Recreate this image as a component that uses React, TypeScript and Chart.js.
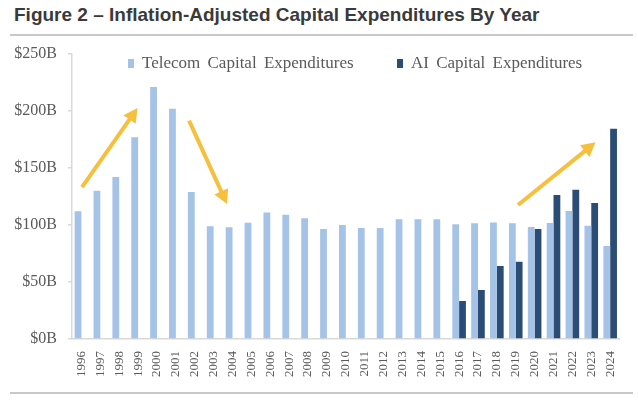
import React, { useEffect, useRef } from "react";
import { Chart, registerables } from "chart.js";

Chart.register(...registerables);

const years = [
  "1996", "1997", "1998", "1999", "2000", "2001", "2002", "2003", "2004", "2005",
  "2006", "2007", "2008", "2009", "2010", "2011", "2012", "2013", "2014", "2015",
  "2016", "2017", "2018", "2019", "2020", "2021", "2022", "2023", "2024",
];

const telecomCapex = [
  112, 130, 142, 177, 221, 202, 129, 99, 98, 102,
  111, 109, 106, 96.5, 100, 97.4, 97.4, 105, 105, 105,
  100.6, 101.5, 102.3, 101.5, 98.2, 101.7, 112.3, 99.4, 81.6,
];

const aiCapex: (number | null)[] = [
  null, null, null, null, null, null, null, null, null, null,
  null, null, null, null, null, null, null, null, null, null,
  33.3, 43, 64, 67.8, 96.5, 126.3, 131, 119.3, 184.5,
];

const yTicks = [0, 50, 100, 150, 200, 250];

// Trend arrows in data space: [fromIndex, fromValue, toIndex, toValue]
const trendArrows = [
  [0.03, 133.3, 2.97, 202.6],
  [5.7, 191.5, 7.71, 118.4],
  [23.12, 117.5, 27.23, 172.5],
];

const seriesNames = ["Telecom Capital Expenditures", "AI Capital Expenditures"];
const LIGHT = "#A5C3E6";
const DARK = "#2B4C74";
const ARROW = "#F6BF3C";

const arrowPlugin = {
  id: "trendArrows",
  afterDatasetsDraw(chart: any) {
    const { ctx, scales } = chart;
    const xs = scales.x;
    const ys = scales.y;
    ctx.save();
    ctx.strokeStyle = ARROW;
    ctx.fillStyle = ARROW;
    ctx.lineWidth = 4;
    ctx.lineCap = "butt";
    for (const [i0, v0, i1, v1] of trendArrows) {
      const x0 = xs.getPixelForValue(i0);
      const y0 = ys.getPixelForValue(v0);
      const x1 = xs.getPixelForValue(i1);
      const y1 = ys.getPixelForValue(v1);
      const ang = Math.atan2(y1 - y0, x1 - x0);
      const headLen = 14;
      const headHalf = 7.5;
      const bx = x1 - headLen * Math.cos(ang);
      const by = y1 - headLen * Math.sin(ang);
      ctx.beginPath();
      ctx.moveTo(x0, y0);
      ctx.lineTo(bx + 2 * Math.cos(ang), by + 2 * Math.sin(ang));
      ctx.stroke();
      ctx.beginPath();
      ctx.moveTo(x1, y1);
      ctx.lineTo(bx + headHalf * Math.sin(ang), by - headHalf * Math.cos(ang));
      ctx.lineTo(bx - headHalf * Math.sin(ang), by + headHalf * Math.cos(ang));
      ctx.closePath();
      ctx.fill();
    }
    ctx.restore();
  },
};

export default function App() {
  const canvasRef = useRef<HTMLCanvasElement | null>(null);

  useEffect(() => {
    if (!canvasRef.current) return;
    const chart = new Chart(canvasRef.current, {
      type: "bar",
      data: {
        labels: years,
        datasets: [
          {
            label: seriesNames[0],
            data: telecomCapex,
            backgroundColor: LIGHT,
            categoryPercentage: 0.72,
            barPercentage: 1,
          },
          {
            label: seriesNames[1],
            data: aiCapex,
            backgroundColor: DARK,
            categoryPercentage: 0.72,
            barPercentage: 1,
          },
        ],
      },
      options: {
        responsive: false,
        animation: false,
        devicePixelRatio: 1,
        layout: { padding: { top: 54, right: 14, left: 0, bottom: 0 } },
        plugins: {
          legend: { display: false },
          tooltip: { enabled: false },
          title: { display: false },
        },
        scales: {
          x: {
            grid: { display: false, drawTicks: false },
            border: { display: true, color: "#D9D9D9", width: 1.5 },
            ticks: {
              autoSkip: false,
              maxRotation: 90,
              minRotation: 90,
              padding: 12,
              color: "#595959",
              font: { family: "'Liberation Serif', 'Times New Roman', serif", size: 13 },
            },
            afterFit(scale: any) {
              scale.height = 65;
            },
          },
          y: {
            min: 0,
            max: 250,
            afterBuildTicks(scale: any) {
              scale.ticks = yTicks.map((v) => ({ value: v }));
            },
            grid: {
              display: true,
              drawOnChartArea: false,
              drawTicks: true,
              tickLength: 4,
              color: "#D9D9D9",
              lineWidth: 1.5,
            },
            border: { display: true, color: "#D9D9D9", width: 1.5 },
            ticks: {
              padding: 11,
              color: "#595959",
              font: { family: "'Liberation Serif', 'Times New Roman', serif", size: 16 },
              callback: (v: any) => `$${v}B`,
            },
            afterFit(scale: any) {
              scale.width = 72;
            },
          },
        },
      },
      plugins: [arrowPlugin],
    });
    return () => chart.destroy();
  }, []);

  const legendText: React.CSSProperties = {
    position: "absolute",
    top: 54,
    fontFamily: "'Liberation Serif', 'Times New Roman', serif",
    fontSize: 17,
    lineHeight: "17px",
    color: "#595959",
    whiteSpace: "nowrap",
    wordSpacing: 3,
  };

  return (
    <div
      style={{
        position: "absolute",
        left: 0,
        top: 0,
        width: 638,
        height: 404,
        background: "#fff",
        overflow: "hidden",
      }}
    >
      <div
        style={{
          position: "absolute",
          left: 14,
          top: 5,
          fontFamily: "'Liberation Sans', Arial, sans-serif",
          fontWeight: "bold",
          fontSize: 19,
          lineHeight: "19px",
          color: "#3A3A3A",
          whiteSpace: "nowrap",
        }}
      >
        Figure 2 – Inflation-Adjusted Capital Expenditures By Year
      </div>
      <div style={{ position: "absolute", left: 10, top: 34, width: 623, height: 2, background: "#C8C8C8" }} />
      <canvas ref={canvasRef} width={638} height={404} style={{ position: "absolute", left: 0, top: 0 }} />
      <div style={{ position: "absolute", left: 128, top: 59, width: 6, height: 9, background: LIGHT }} />
      <div style={{ ...legendText, left: 142 }}>{seriesNames[0]}</div>
      <div style={{ position: "absolute", left: 397, top: 59, width: 6, height: 9, background: DARK }} />
      <div style={{ ...legendText, left: 411 }}>{seriesNames[1]}</div>
      <div style={{ position: "absolute", left: 10, top: 392, width: 623, height: 2, background: "#C8C8C8" }} />
    </div>
  );
}
